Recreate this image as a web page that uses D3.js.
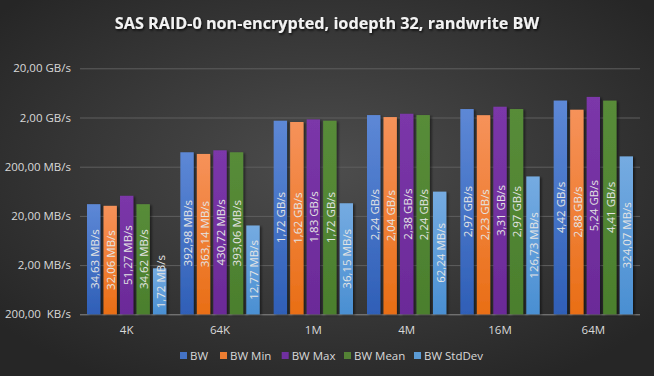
<!DOCTYPE html>
<html>
<head>
<meta charset="utf-8">
<script src="https://cdn.jsdelivr.net/npm/d3@7"></script>
<style>
html,body{margin:0;padding:0;background:#333;}
svg{display:block;}
text{font-family:"Open Sans","Noto Sans",sans-serif;}
</style>
</head>
<body>
<svg id="chart" width="654" height="376"></svg>
<script>
const categories = ["4K","64K","1M","4M","16M","64M"];
const seriesNames = ["BW","BW Min","BW Max","BW Mean","BW StdDev"];
// values in MB/s
const bw      = [34.63, 392.98, 1720, 2240, 2970, 4420];
const bwMin   = [32.06, 363.14, 1620, 2040, 2230, 2880];
const bwMax   = [51.27, 430.72, 1830, 2380, 3310, 5240];
const bwMean  = [34.62, 393.06, 1720, 2240, 2970, 4410];
const bwStd   = [1.72, 12.77, 36.15, 62.24, 126.73, 324.07];
const labelsBw     = ["34,63 MB/s","392,98 MB/s","1,72 GB/s","2,24 GB/s","2,97 GB/s","4,42 GB/s"];
const labelsBwMin  = ["32,06 MB/s","363,14 MB/s","1,62 GB/s","2,04 GB/s","2,23 GB/s","2,88 GB/s"];
const labelsBwMax  = ["51,27 MB/s","430,72 MB/s","1,83 GB/s","2,38 GB/s","3,31 GB/s","5,24 GB/s"];
const labelsBwMean = ["34,62 MB/s","393,06 MB/s","1,72 GB/s","2,24 GB/s","2,97 GB/s","4,41 GB/s"];
const labelsBwStd  = ["1,72 MB/s","12,77 MB/s","36,15 MB/s","62,24 MB/s","126,73 MB/s","324,07 MB/s"];
const tickValues = [0.2, 2, 20, 200, 2000, 20000];
const tickLabels = ["200,00  KB/s","2,00 MB/s","20,00 MB/s","200,00 MB/s","2,00 GB/s","20,00 GB/s"];
const title = "SAS RAID-0 non-encrypted, iodepth 32, randwrite BW";

(function(){
const seriesValues = [bw, bwMin, bwMax, bwMean, bwStd];
const seriesLabels = [labelsBw, labelsBwMin, labelsBwMax, labelsBwMean, labelsBwStd];
const colors = [
  ["#5d88d6","#2f5fb7"],
  ["#f6925a","#e96e15"],
  ["#7b37a9","#6b2a98"],
  ["#588c39","#4b7f2d"],
  ["#75abe1","#4a8fd2"]
];
const legendColors = ["#4472c4","#ed7d31","#7030a0","#548235","#5b9bd5"];

const W = 654, H = 376;
const svg = d3.select("#chart");
const defs = svg.append("defs");

const bg = defs.append("radialGradient").attr("id","bg").attr("cx","50%").attr("cy","45%").attr("r","65%");
bg.append("stop").attr("offset","0%").attr("stop-color","#4d4d4d");
bg.append("stop").attr("offset","100%").attr("stop-color","#262626");
svg.append("rect").attr("width",W).attr("height",H).attr("fill","url(#bg)");

colors.forEach((c,i)=>{
  const g = defs.append("linearGradient").attr("id","g"+i).attr("x1",0).attr("y1",0).attr("x2",0).attr("y2",1);
  g.append("stop").attr("offset","0%").attr("stop-color",c[0]);
  g.append("stop").attr("offset","100%").attr("stop-color",c[1]);
});
const sh = defs.append("filter").attr("id","shadow").attr("x","-20%").attr("y","-5%").attr("width","160%").attr("height","115%");
sh.append("feDropShadow").attr("dx",2).attr("dy",1).attr("stdDeviation",1.2).attr("flood-color","#000").attr("flood-opacity",0.45);
const tsh = defs.append("filter").attr("id","tshadow");
tsh.append("feDropShadow").attr("dx",1).attr("dy",1.5).attr("stdDeviation",1.2).attr("flood-color","#000").attr("flood-opacity",0.8);

const pLeft = 80, pRight = 640, pTop = 68.3, pBottom = 314.3;
const y = d3.scaleLog().domain([0.2, 20000]).range([pBottom, pTop]);
const x0 = d3.scaleBand().domain(categories).range([pLeft, pRight]).paddingInner(0).paddingOuter(0);
const x1 = d3.scaleBand().domain(seriesNames).range([7, x0.bandwidth()-7]).paddingInner(0.19).paddingOuter(0);

const yAxis = d3.axisLeft(y).tickValues(tickValues).tickSize(-(pRight-pLeft)).tickFormat((d,i)=>tickLabels[i]);
const ga = svg.append("g").attr("transform",`translate(${pLeft},0)`).call(yAxis);
ga.select(".domain").remove();
ga.selectAll(".tick line").attr("stroke","#5f5f5f").attr("stroke-width",1);
ga.selectAll(".tick text").attr("x",-9).attr("fill","#d9d9d9").attr("font-size","11.5px").style("white-space","pre");
ga.selectAll(".tick").filter(d=>d===0.2).select("line").attr("stroke","#8a8a8a");

seriesNames.forEach((s,si)=>{
  const g = svg.append("g");
  g.selectAll("rect").data(categories).join("rect")
    .attr("x",c=>x0(c)+x1(s))
    .attr("width",x1.bandwidth())
    .attr("y",(c,ci)=>y(seriesValues[si][ci]))
    .attr("height",(c,ci)=>pBottom - y(seriesValues[si][ci]))
    .attr("fill","url(#g"+si+")")
    .attr("filter","url(#shadow)");
});
seriesNames.forEach((s,si)=>{
  const g = svg.append("g");
  categories.forEach((c,ci)=>{
    const cx = x0(c)+x1(s)+x1.bandwidth()/2;
    const yTop = y(seriesValues[si][ci]);
    const t = g.append("text")
      .attr("font-size","11.5px").attr("fill","#e4e4e4")
      .attr("text-anchor","middle").attr("dominant-baseline","central")
      .text(seriesLabels[si][ci]);
    const len = t.node().getComputedTextLength();
    let cy = (yTop+pBottom)/2;
    cy = Math.min(cy, pBottom - 6 - len/2);
    t.attr("transform",`translate(${cx+0.5},${cy}) rotate(-90)`);
  });
});

svg.append("g").selectAll("text").data(categories).join("text")
  .attr("x",c=>x0(c)+x0.bandwidth()/2).attr("y",334)
  .attr("text-anchor","middle").attr("fill","#d9d9d9").attr("font-size","11.5px")
  .text(d=>d);

svg.append("text").attr("x",W/2).attr("y",29).attr("text-anchor","middle")
  .attr("fill","#f2f2f2").attr("font-weight","bold").attr("font-size","16.2px")
  .attr("filter","url(#tshadow)").text(title);

const legendX = [180, 220, 281.7, 344, 414];
const lg = svg.append("g");
seriesNames.forEach((s,i)=>{
  lg.append("rect").attr("x",legendX[i]).attr("y",352).attr("width",7).attr("height",7).attr("fill",legendColors[i]);
  lg.append("text").attr("x",legendX[i]+10).attr("y",359.5).attr("fill","#d9d9d9").attr("font-size","11.5px").text(s);
});
})();
</script>
</body>
</html>
